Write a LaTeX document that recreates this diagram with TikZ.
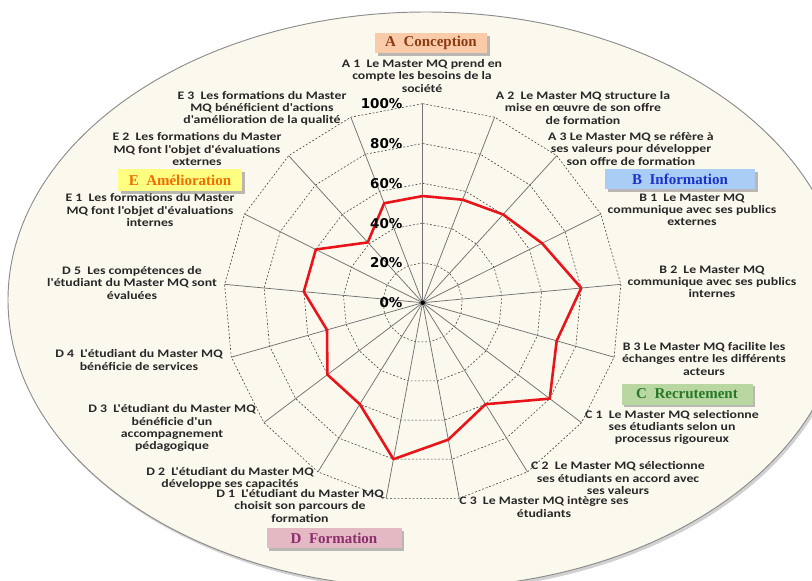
\documentclass[tikz,border=0pt]{standalone}
\usepackage{fontspec}
\usepackage{tikz}
\usetikzlibrary{shadows}

\newfontfamily\lblfont[FakeStretch=1.2]{Carlito}
\newfontfamily\pctfont{DejaVu Sans}
\newfontfamily\catfont{Liberation Serif}

\definecolor{paper}{RGB}{251,249,238}
\definecolor{rim}{RGB}{140,140,140}
\definecolor{lblgray}{RGB}{40,40,40}
\definecolor{scorered}{RGB}{232,20,26}
\definecolor{concfill}{RGB}{249,203,168}
\definecolor{conctext}{RGB}{140,60,20}
\definecolor{infofill}{RGB}{170,205,245}
\definecolor{infotext}{RGB}{25,50,200}
\definecolor{recrfill}{RGB}{185,215,160}
\definecolor{recrtext}{RGB}{40,120,40}
\definecolor{formfill}{RGB}{228,185,195}
\definecolor{formtext}{RGB}{140,45,110}
\definecolor{amelfill}{RGB}{255,255,130}
\definecolor{ameltext}{RGB}{240,110,0}

\begin{document}
\begin{tikzpicture}[x=0.03cm,y=-0.03cm,
    lbl/.style={font=\lblfont\bfseries\fontsize{9.8}{10.3}\selectfont,text=lblgray,align=center,inner sep=0pt},
    pct/.style={font=\pctfont\bfseries\fontsize{11.5}{12}\selectfont,anchor=east,inner sep=0pt},
    catbox/.style={font=\catfont\bfseries\fontsize{12.8}{13}\selectfont,inner sep=0pt,minimum height=0.6cm,
      drop shadow={shadow xshift=2.5pt,shadow yshift=-2.5pt,fill=black!45,opacity=.6}},
    spoke/.style={draw=black!55,line width=.65pt},
    ring/.style={draw=black!75,dash pattern=on 1.6pt off 1.6pt,line width=.5pt},
    score/.style={draw=scorered,line width=2.2pt,line join=round}]
  \useasboundingbox (0,0) rectangle (812,580);
  \clip (0,0) rectangle (812,580);
  % background
  \fill[black!18] (428,303) ellipse [x radius=418,y radius=288];
  \fill[paper,draw=rim,line width=.8pt] (426,300) ellipse [x radius=418,y radius=288];

  \begin{scope}[shift={(422.7,302.7)}]
    \coordinate (hub) at (0,0);
    % rings
    \foreach \k in {1,...,5}
      \draw[ring] (-90:\k*39.8) \foreach \i in {1,...,16}{ -- ({\i*360/17-90}:\k*39.8)} -- cycle;
    % spokes
    \foreach \i in {0,...,16}
      \draw[spoke] (hub) -- ({\i*360/17-90}:199) coordinate (ax\i);
    % scores
    \foreach \v [count=\i from 0] in {53.6,55.5,60,67,80,70,80,60,70,80,60,60,50,60,60,41,53.6}
      \coordinate (p\i) at ({\i*360/17-90}:{1.99*\v});
    \draw[score] (p0) \foreach \i in {1,...,16}{ -- (p\i)} -- cycle;
    \fill (hub) circle [radius=2.2];
    % scale
    \foreach \k/\t in {0/0,1/20,2/40,3/60,4/80,5/100}
      \node[pct] (pct\t) at (-20,{-\k*39.8}) {\t\%};
  \end{scope}

  % items
  \node[lbl] (a1) at (422,76) {A 1\ \ Le Master MQ prend en\\compte les besoins de la\\société};
  \node[lbl] (a2) at (583,108) {A 2\ \ Le Master MQ structure la\\mise en œuvre de son offre\\de formation};
  \node[lbl] (a3) at (631,149) {A 3 Le Master MQ se réfère à\\ses valeurs pour développer\\son offre de formation};
  \node[lbl] (b1) at (692,210) {B 1\ \ Le Master MQ\\communique avec ses publics\\externes};
  \node[lbl] (b2) at (712,282) {B 2\ \ Le Master MQ\\communique avec ses publics\\internes};
  \node[lbl] (b3) at (704,359) {B 3 Le Master MQ facilite les\\échanges entre les différents\\acteurs};
  \node[lbl] (c1) at (672,427) {C 1\ \ Le Master MQ selectionne\\ses étudiants selon un\\processus rigoureux};
  \node[lbl] (c2) at (618,478) {C 2\ \ Le Master MQ sélectionne\\ses étudiants en accord avec\\ses valeurs};
  \node[lbl] (c3) at (544,507) {C 3\ \ Le Master MQ intègre ses\\étudiants};
  \node[lbl] (d1) at (300,506) {D 1\ \ L'étudiant du Master MQ\\choisit son parcours de\\formation};
  \node[lbl] (d2) at (230,478) {D 2\ \ L'étudiant du Master MQ\\développe ses capacités};
  \node[lbl] (d3) at (172,428) {D 3\ \ L'étudiant du Master MQ\\bénéficie d'un\\accompagnement\\pédagogique};
  \node[lbl] (d4) at (139,360) {D 4\ \ L'étudiant du Master MQ\\bénéficie de services};
  \node[lbl] (d5) at (132,283) {D 5\ \ Les compétences de\\l'étudiant du Master MQ sont\\évaluées};
  \node[lbl] (e1) at (150,210) {E 1\ \ Les formations du Master\\MQ font l'objet d'évaluations\\internes};
  \node[lbl] (e2) at (197,149) {E 2\ \ Les formations du Master\\MQ font l'objet d'évaluations\\externes};
  \node[lbl] (e3) at (262,108) {E 3\ \ Les formations du Master\\MQ bénéficient d'actions\\d'amélioration de la qualité};

  % categories
  \node[catbox,fill=concfill,text=conctext,minimum width=3.36cm] (catA) at (431,43) {A\ \ Conception};
  \node[catbox,fill=infofill,text=infotext,minimum width=4.5cm] (catB) at (680,179) {B\ \ Information};
  \node[catbox,fill=recrfill,text=recrtext,minimum width=3.93cm,minimum height=0.63cm] (catC) at (687,394) {C\ \ Recrutement};
  \node[catbox,fill=formfill,text=formtext,minimum width=4.05cm] (catD) at (334,538) {D\ \ Formation};
  \node[catbox,fill=amelfill,text=ameltext,minimum width=3.72cm,minimum height=0.66cm] (catE) at (180,180) {E\ \ Amélioration};
\end{tikzpicture}
\end{document}
